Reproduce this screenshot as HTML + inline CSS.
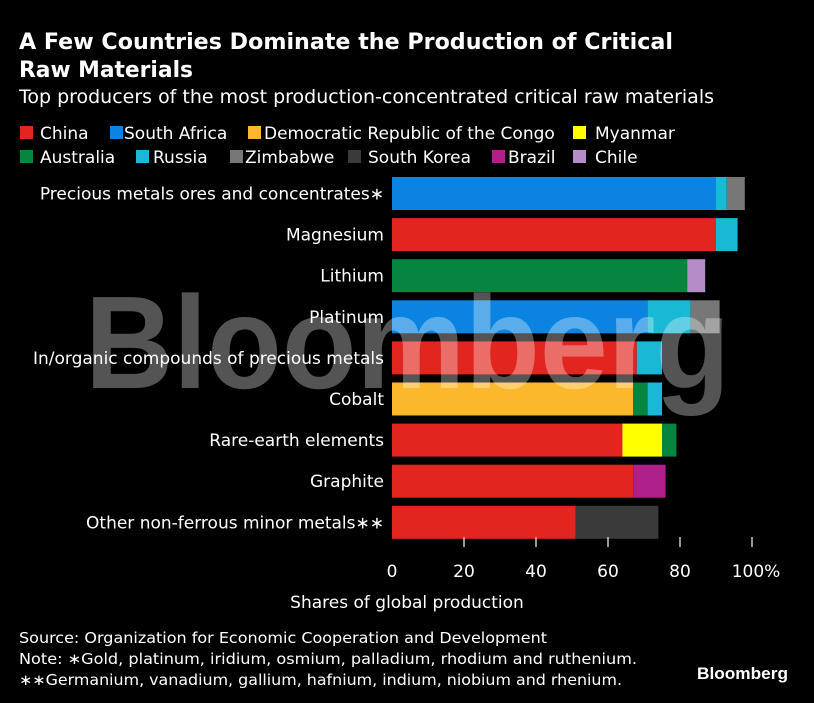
<!DOCTYPE html>
<html><head><meta charset="utf-8"><style>
html,body{margin:0;padding:0;background:#000;}
svg{display:block;font-family:"DejaVu Sans","Liberation Sans",sans-serif;}
</style></head><body>
<svg id="c" width="814" height="703" viewBox="0 0 814 703">
<rect width="814" height="703" fill="#000"/>
<text x="19" y="49" fill="#fff" font-weight="bold" font-size="22" textLength="654" lengthAdjust="spacingAndGlyphs">A Few Countries Dominate the Production of Critical</text>
<text x="19" y="77" fill="#fff" font-weight="bold" font-size="22" textLength="174" lengthAdjust="spacingAndGlyphs">Raw Materials</text>
<text x="19" y="103" fill="#fff" font-size="19" textLength="695" lengthAdjust="spacingAndGlyphs">Top producers of the most production-concentrated critical raw materials</text>
<g id="legend"></g>
<g id="bars"></g>
<text x="85" y="388" fill="#fff" fill-opacity="0.33" font-size="132" font-weight="bold" font-family="Liberation Sans, sans-serif" textLength="645" lengthAdjust="spacingAndGlyphs">Bloomberg</text>
<g id="labels"></g>
<g id="axis"></g>
<text x="407" y="608" fill="#fff" font-size="17" text-anchor="middle">Shares of global production</text>
<text x="19" y="643" fill="#fff" font-size="15" textLength="528" lengthAdjust="spacingAndGlyphs">Source: Organization for Economic Cooperation and Development</text>
<text x="19" y="664" fill="#fff" font-size="15" textLength="618" lengthAdjust="spacingAndGlyphs">Note: ∗Gold, platinum, iridium, osmium, palladium, rhodium and ruthenium.</text>
<text x="19" y="685" fill="#fff" font-size="15" textLength="603" lengthAdjust="spacingAndGlyphs">∗∗Germanium, vanadium, gallium, hafnium, indium, niobium and rhenium.</text>
<text x="697" y="679" fill="#fff" font-size="17" font-weight="bold" textLength="91" lengthAdjust="spacingAndGlyphs" font-family="Liberation Sans, sans-serif">Bloomberg</text>
</svg>
<script>
const countries = ["China","South Africa","Democratic Republic of the Congo","Myanmar","Australia","Russia","Zimbabwe","South Korea","Brazil","Chile"];
const colors = ["#e0261f","#0a84e0","#fbb82c","#ffff00","#06853f","#19b8d4","#777777","#3a3a3a","#b0208c","#b58bc8"];
const categories = ["Precious metals ores and concentrates∗","Magnesium","Lithium","Platinum","In/organic compounds of precious metals","Cobalt","Rare-earth elements","Graphite","Other non-ferrous minor metals∗∗"];
const segCountries = [[1,5,6],[0,5],[4,9],[1,5,6],[0,5],[2,4,5],[0,3,4],[0,8],[0,7]];
const segValues = [[90,3,5],[90,6],[82,5],[71,12,8],[68,7],[67,4,4],[64,11,4],[67,9],[51,23]];
const ticks = [0,20,40,60,80,100];
const tickLabels = ["0","20","40","60","80","100%"];
const NS="http://www.w3.org/2000/svg";
const x0=392, x100=752;
const xs=v=>x0+(x100-x0)*v/100;
const barTop=177, pitch=41.1, barH=33;
function mk(tag,attrs,parent){const e=document.createElementNS(NS,tag);for(const k in attrs)e.setAttribute(k,attrs[k]);parent.appendChild(e);return e;}
const lg=document.getElementById('legend');
const lpos=[[20,40,139],[110,124,139],[248,264,139],[573,595,139],[20,40,163],[136,153,163],[230,245,163],[348,368,163],[492,508,163],[573,595,163]];
countries.forEach((c,i)=>{
  const p=lpos[i];
  const r=mk('rect',{x:p[0],y:p[2]-13,width:13,height:13,fill:colors[i]},lg);
  
  
  const t=mk('text',{x:p[1],y:p[2],fill:'#fff','font-size':17},lg);
  t.textContent=c;
  
  
});
const bg=document.getElementById('bars');
const lb=document.getElementById('labels');
categories.forEach((cat,i)=>{
  const y=barTop+i*pitch;
  const lab=mk('text',{x:384,y:y+barH/2+6,fill:'#fff','font-size':17,'text-anchor':'end'},lb);
  lab.textContent=cat;
  
  
  let acc=0;
  segValues[i].forEach((v,j)=>{
    const r=mk('rect',{x:xs(acc),y:y,width:xs(acc+v)-xs(acc),height:barH,fill:colors[segCountries[i][j]]},bg);
    
    
    acc+=v;
  });
});
const ax=document.getElementById('axis');
ticks.forEach((t,i)=>{
  if(t>0){const l=mk('line',{x1:xs(t),x2:xs(t),y1:537,y2:547,stroke:'#ccc','stroke-width':1.5},ax);
  
  }
  const tx=mk('text',{x:xs(t)+(t===100?4:0),y:577,fill:'#fff','font-size':17,'text-anchor':'middle'},ax);
  tx.textContent=tickLabels[i];
  
  
});
</script>
</body></html>
